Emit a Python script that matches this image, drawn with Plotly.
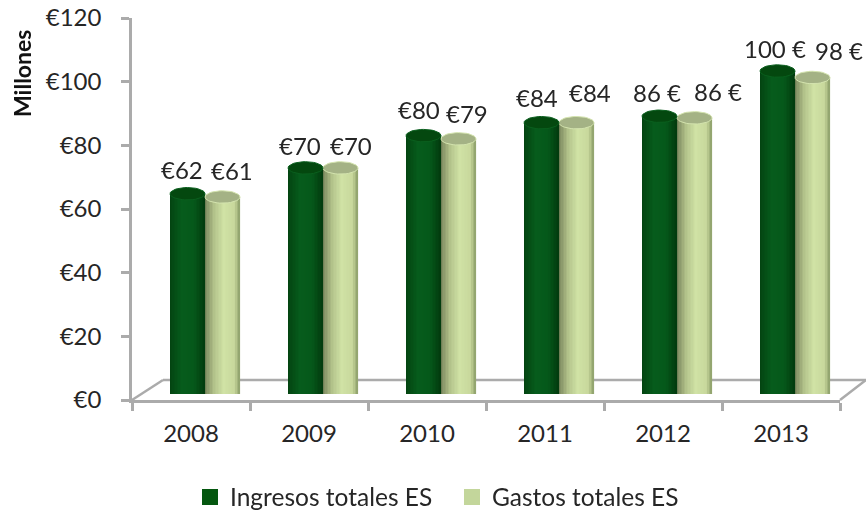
import math
import plotly.graph_objects as go

years = ["2008", "2009", "2010", "2011", "2012", "2013"]
ingresos = [62, 70, 80, 84, 86, 100]
gastos = [61, 70, 79, 84, 85.5, 98]
ingresos_labels = ["€62", "€70", "€80", "€84", "86 €", "100 €"]
gastos_labels = ["€61", "€70", "€79", "€84", "86 €", "98 €"]
y_ticks = [0, 20, 40, 60, 80, 100, 120]
y_tick_labels = ["€0", "€20", "€40", "€60", "€80", "€100", "€120"]

W, H = 866, 511
PL, PR, PT, PB = 132, 840, 18, 400
DX, DY_B, TOP2 = 14, 394, 6.4
FONT = "Lato, Carlito, Calibri, sans-serif"
TXT = "#262626"
GRID = "#ababab"

slot = (PR - PL) / 6
cyl_w = 35 / slot                        # cylinder width in category units
unit_y = (DY_B - TOP2) / 120
ell = 6.2 / unit_y                       # ellipse half height in value units
N = 24


def lerp(stops, t):
    for (a, ca), (b, cb) in zip(stops, stops[1:]):
        if t <= b:
            f = (t - a) / (b - a)
            c = [round(ca[i] + (cb[i] - ca[i]) * f) for i in range(3)]
            return f"rgb({c[0]},{c[1]},{c[2]})"
    c = stops[-1][1]
    return f"rgb({c[0]},{c[1]},{c[2]})"


green_stops = [(0, (3, 66, 16)), (.35, (6, 92, 28)), (.7, (5, 88, 26)), (1, (2, 58, 13))]
light_stops = [(0, (118, 130, 90)), (.28, (180, 196, 140)), (.55, (208, 226, 165)),
               (.85, (200, 216, 156)), (1, (140, 158, 105))]

fig = go.Figure()

# invisible trace that gives the front category axis its labels
fig.add_trace(go.Scatter(x=years, y=ingresos, mode="markers", opacity=0,
                         hoverinfo="skip", showlegend=False, xaxis="x", yaxis="y"))


def cylinder(values, side, stops, cap, rim):
    for s in range(N):
        t = (s + .5) / N
        u = 2 * t - 1
        dy = ell * math.sqrt(1 - u * u)
        fig.add_trace(go.Bar(
            x=list(range(6)), y=[v + dy for v in values], base=-dy,
            width=cyl_w / N * 1.06,
            offset=side * cyl_w + (t - .5 / N) * cyl_w,
            marker=dict(color=lerp(stops, t), line_width=0),
            showlegend=False, hoverinfo="skip", xaxis="x2", yaxis="y2"))
    xs, ys = [], []
    for i, v in enumerate(values):
        for k in range(41):
            a = 2 * math.pi * k / 40
            xs.append(i + side * cyl_w + cyl_w / 2 + cyl_w / 2 * math.cos(a))
            ys.append(v + ell * math.sin(a))
        xs.append(None)
        ys.append(None)
    fig.add_trace(go.Scatter(x=xs, y=ys, mode="lines", fill="toself", fillcolor=cap,
                             line=dict(color=rim, width=1), showlegend=False,
                             hoverinfo="skip", xaxis="x2", yaxis="y2"))


cylinder(gastos, 0, light_stops, "#a4b285", "#d3e3ae")
cylinder(ingresos, -1, green_stops, "#04480f", "#0a5f1e")

# legend entries
fig.add_trace(go.Scatter(x=[None], y=[None], mode="markers", name="Ingresos totales ES",
                         marker=dict(symbol="square", size=17, color="#04570f"),
                         xaxis="x", yaxis="y"))
fig.add_trace(go.Scatter(x=[None], y=[None], mode="markers", name="Gastos totales ES",
                         marker=dict(symbol="square", size=17, color="#c3d69b"),
                         xaxis="x", yaxis="y"))

ing_shift = [(-6, 24), (-6, 22), (-5, 26), (-5, 25), (-3, 24), (-3, 23)]
gas_shift = [(9, 26), (10, 22), (8, 25), (13, 30), (23, 26), (26, 27)]
anns = []
for lab, vals, shifts, side in ((ingresos_labels, ingresos, ing_shift, -.5),
                                (gastos_labels, gastos, gas_shift, .5)):
    for i, (t, v, (sx, sy)) in enumerate(zip(lab, vals, shifts)):
        anns.append(dict(x=i + side * cyl_w, y=v, xref="x2", yref="y2", text=t,
                         showarrow=False, xshift=sx, yshift=sy,
                         font=dict(family=FONT, size=24, color=TXT)))
anns.append(dict(x=22 / W, y=1 - 74 / H, xref="paper", yref="paper",
                 text="<b>Millones</b>", textangle=-90, showarrow=False,
                 xanchor="center", yanchor="middle",
                 font=dict(family=FONT, size=23, color="#111111")))


def seg(x0, y0, x1, y1):
    return dict(type="line", xref="paper", yref="paper", x0=x0 / W, x1=x1 / W,
                y0=1 - y0 / H, y1=1 - y1 / H, line=dict(color=GRID, width=2.5), layer="below")


shapes = [seg(PL, PB, PL + 31, PB - 20), seg(PL + 31, PB - 20, W, PB - 20),
          seg(PR, PB, W, PB - 20)]

fig.update_layout(
    width=W, height=H, autosize=False,
    margin=dict(l=0, r=0, t=0, b=0, autoexpand=False),
    paper_bgcolor="white", plot_bgcolor="rgba(0,0,0,0)",
    barmode="overlay", showlegend=True,
    font=dict(family=FONT, size=24, color=TXT),
    xaxis=dict(domain=[PL / W, PR / W], type="category", categoryorder="array",
               categoryarray=years, range=[-.5, 5.5], tickson="boundaries",
               ticks="outside", ticklen=8, tickwidth=2.5, tickcolor=GRID,
               showline=True, linecolor=GRID, linewidth=2.5, showgrid=False,
               zeroline=False, tickfont=dict(size=24, color=TXT), ticklabelstandoff=10),
    yaxis=dict(domain=[1 - PB / H, 1 - PT / H], range=[0, 120], tickvals=y_ticks,
               ticktext=y_tick_labels, ticks="outside", ticklen=8, tickwidth=2.5,
               tickcolor=GRID, showline=True, linecolor=GRID, linewidth=2.5,
               showgrid=False, zeroline=False, tickfont=dict(size=24, color=TXT),
               ticklabelstandoff=15, ticklabeloverflow="allow"),
    xaxis2=dict(domain=[(PL + DX) / W, (PR + DX) / W], range=[-.5, 5.5], visible=False,
                anchor="y2"),
    yaxis2=dict(domain=[1 - DY_B / H, 1 - TOP2 / H], range=[0, (DY_B - TOP2) / unit_y],
                visible=False, anchor="x2"),
    legend=dict(orientation="h", x=190 / W, xanchor="left", y=1 - 497 / H,
                yanchor="middle", font=dict(family=FONT, size=24.5, color=TXT),
                bgcolor="rgba(0,0,0,0)", itemwidth=30, traceorder="normal",
                entrywidth=217, entrywidthmode="pixels"),
    annotations=anns, shapes=shapes,
)

fig.write_html("out.html", config={"displayModeBar": False},
               post_script="document.body.style.margin='0';")
